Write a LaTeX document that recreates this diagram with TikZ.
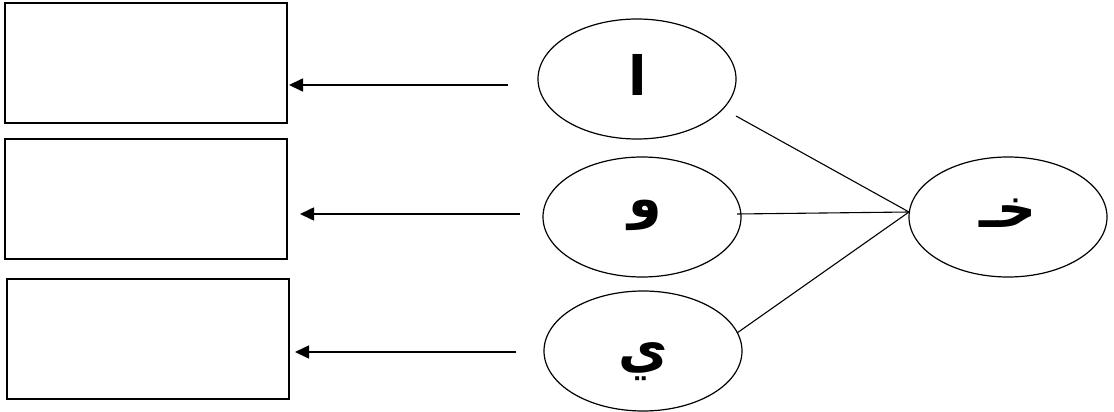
\documentclass[tikz,border=0pt]{standalone}
\usepackage{fontspec}
\newfontfamily\arabicfont[Script=Arabic]{DejaVu Sans}
\TeXXeTstate=1
\usetikzlibrary{shapes.geometric,arrows.meta}
\begin{document}
\begin{tikzpicture}[x=1pt,y=-1pt,
  box/.style={draw,line width=1.3pt,minimum width=282pt,minimum height=120pt,inner sep=0pt},
  oval/.style={draw,ellipse,line width=1.2pt,minimum width=198pt,minimum height=120pt,inner sep=0pt},
  letter/.style={inner sep=0pt,font=\arabicfont\bfseries\fontsize{54}{60}\selectfont},
  arr/.style={line width=1.6pt,-{Triangle[length=14pt,width=13pt]}},
  link/.style={line width=1.1pt}]
\useasboundingbox (0,0) rectangle (1114,412);
\node[box] (b1) at (146,63) {};
\node[box] (b2) at (146,199) {};
\node[box] (b3) at (148,339) {};
\node[oval] (e1) at (637,79) {};
\node[oval] (e2) at (642,217) {};
\node[oval] (e3) at (643,351) {};
\node[oval] (e4) at (1008,217) {};
\node[letter] (t1) at (638,75) {\beginR ا\endR};
\node[letter] (t2) at (645,215) {\beginR و\endR};
\node[letter] (t3) at (643,362) {\beginR ي\endR};
\node[letter] (t4) at (1008,213) {\beginR خـ\endR};
\coordinate (a1s) at (508,85);
\coordinate (a1e) at (289,85);
\coordinate (a2s) at (520,214);
\coordinate (a2e) at (300,214);
\coordinate (a3s) at (516,352);
\coordinate (a3e) at (295,352);
\draw[arr] (a1s) -- (a1e);
\draw[arr] (a2s) -- (a2e);
\draw[arr] (a3s) -- (a3e);
\coordinate (hub) at (909,212);
\coordinate (l1) at (736,116);
\coordinate (l2) at (737,214);
\coordinate (l3) at (737,333);
\draw[link] (hub) -- (l1);
\draw[link] (hub) -- (l2);
\draw[link] (hub) -- (l3);
\end{tikzpicture}
\end{document}
